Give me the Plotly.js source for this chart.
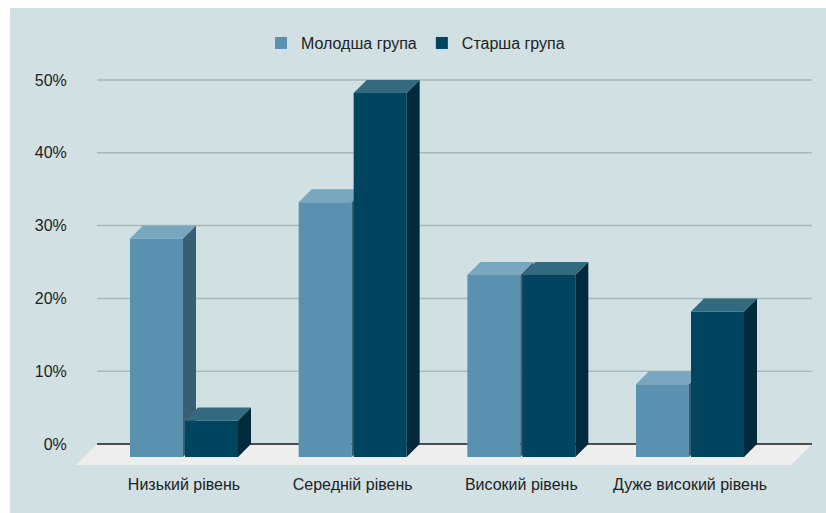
<!DOCTYPE html>
<html>
<head>
<meta charset="utf-8">
<script src="https://cdn.plot.ly/plotly-3.0.1.min.js"></script>
<style>
  html, body { margin: 0; padding: 0; background: #ffffff; }
  #chart { position: absolute; left: 10px; top: 8px; width: 816px; height: 505px; }
</style>
</head>
<body>
<div id="chart"></div>
<script>
// ---- data ----
const categories = ["Низький рівень", "Середній рівень", "Високий рівень", "Дуже високий рівень"];
const seriesNames = ["Молодша група", "Старша група"];
const youngerValues = [30, 35, 25, 10];
const olderValues = [5, 50, 25, 20];
const yTickValues = [0, 10, 20, 30, 40, 50];
const yTickLabels = ["0%", "10%", "20%", "30%", "40%", "50%"];

// ---- style / geometry (pixel-derived constants) ----
const pxX = 168.67, pxY = 7.28;           // pixels per data unit
const depthX = 13 / pxX, depthY = 13 / pxY; // 3D bar depth
const barW = 53 / pxX, barOff = 27.5 / pxX;
const wallL = -0.5158, wallR = 3.7233;
const floorDX = 21 / pxX, floorDY = 21 / pxY;

const colors = {
  young: { front: "#5a91b0", top: "#78a7bf", side: "#3a5e71" },
  old:   { front: "#01445f", top: "#336a80", side: "#012b3d" }
};

const traces = [];

function addSeries(name, values, sign, col, xa, ya) {
  const xs = categories.map((c, i) => i + sign * barOff);
  traces.push({
    type: "bar", name: name, x: xs, y: values, base: values.map(() => -depthY),
    width: barW, marker: { color: col.front, line: { width: 0 } },
    xaxis: xa, yaxis: ya, hoverinfo: "skip"
  });
  values.forEach((v, i) => {
    const x0 = xs[i] - barW / 2, x1 = xs[i] + barW / 2;
    // side face
    traces.push({
      type: "scatter", mode: "lines", fill: "toself", fillcolor: col.side,
      x: [x1, x1, x1 + depthX, x1 + depthX, x1],
      y: [-depthY, v - depthY, v, 0, -depthY],
      line: { width: 0, color: col.side }, showlegend: false, hoverinfo: "skip",
      xaxis: xa, yaxis: ya
    });
    // top face
    traces.push({
      type: "scatter", mode: "lines", fill: "toself", fillcolor: col.top,
      x: [x0, x1, x1 + depthX, x0 + depthX, x0],
      y: [v - depthY, v - depthY, v, v, v - depthY],
      line: { width: 0, color: col.top }, showlegend: false, hoverinfo: "skip",
      xaxis: xa, yaxis: ya
    });
  });
}

addSeries(seriesNames[0], youngerValues, -1, colors.young, "x", "y");
addSeries(seriesNames[1], olderValues, 1, colors.old, "x2", "y2");

const shapes = [];
// floor
shapes.push({
  type: "path", xref: "x", yref: "y", layer: "below",
  path: `M${wallL},0 L${wallR},0 L${wallR - floorDX},${-floorDY} L${wallL - floorDX},${-floorDY} Z`,
  fillcolor: "#eeeeee", line: { width: 0 }
});
// gridlines
yTickValues.forEach(v => {
  shapes.push({
    type: "line", xref: "x", yref: "y", layer: "below",
    x0: wallL, x1: wallR, y0: v, y1: v,
    line: { color: v === 0 ? "#1a1a1a" : "#a9b8ba", width: v === 0 ? 1.3 : 1.5 }
  });
});

const xRange = [-0.6522, 3.7589];
const yRange = [-3.984, 52.747];
const font = { family: "Liberation Sans, Arial, sans-serif", size: 16, color: "#222222" };

const layout = {
  width: 816, height: 505,
  margin: { l: 64, r: 8, t: 52, b: 40 },
  paper_bgcolor: "#d0e0e3", plot_bgcolor: "rgba(0,0,0,0)",
  font: font,
  barmode: "overlay",
  showlegend: true,
  legend: {
    orientation: "h", x: 0.459, xanchor: "center", y: 1.041, yanchor: "middle",
    font: font, bgcolor: "rgba(0,0,0,0)", traceorder: "normal"
  },
  xaxis: {
    range: xRange, tickmode: "array", tickvals: categories.map((c, i) => i), ticktext: categories,
    showgrid: false, zeroline: false, showline: false, ticks: "", fixedrange: true
  },
  yaxis: {
    range: yRange, tickmode: "array", tickvals: yTickValues, ticktext: yTickLabels,
    showgrid: false, zeroline: false, showline: false, ticks: "outside", ticklen: 3,
    tickcolor: "rgba(0,0,0,0)", fixedrange: true
  },
  xaxis2: { overlaying: "x", matches: "x", visible: false, range: xRange },
  yaxis2: { overlaying: "y", matches: "y", visible: false, range: yRange },
  shapes: shapes
};

Plotly.newPlot("chart", traces, layout, { displayModeBar: false, staticPlot: true });
</script>
</body>
</html>
